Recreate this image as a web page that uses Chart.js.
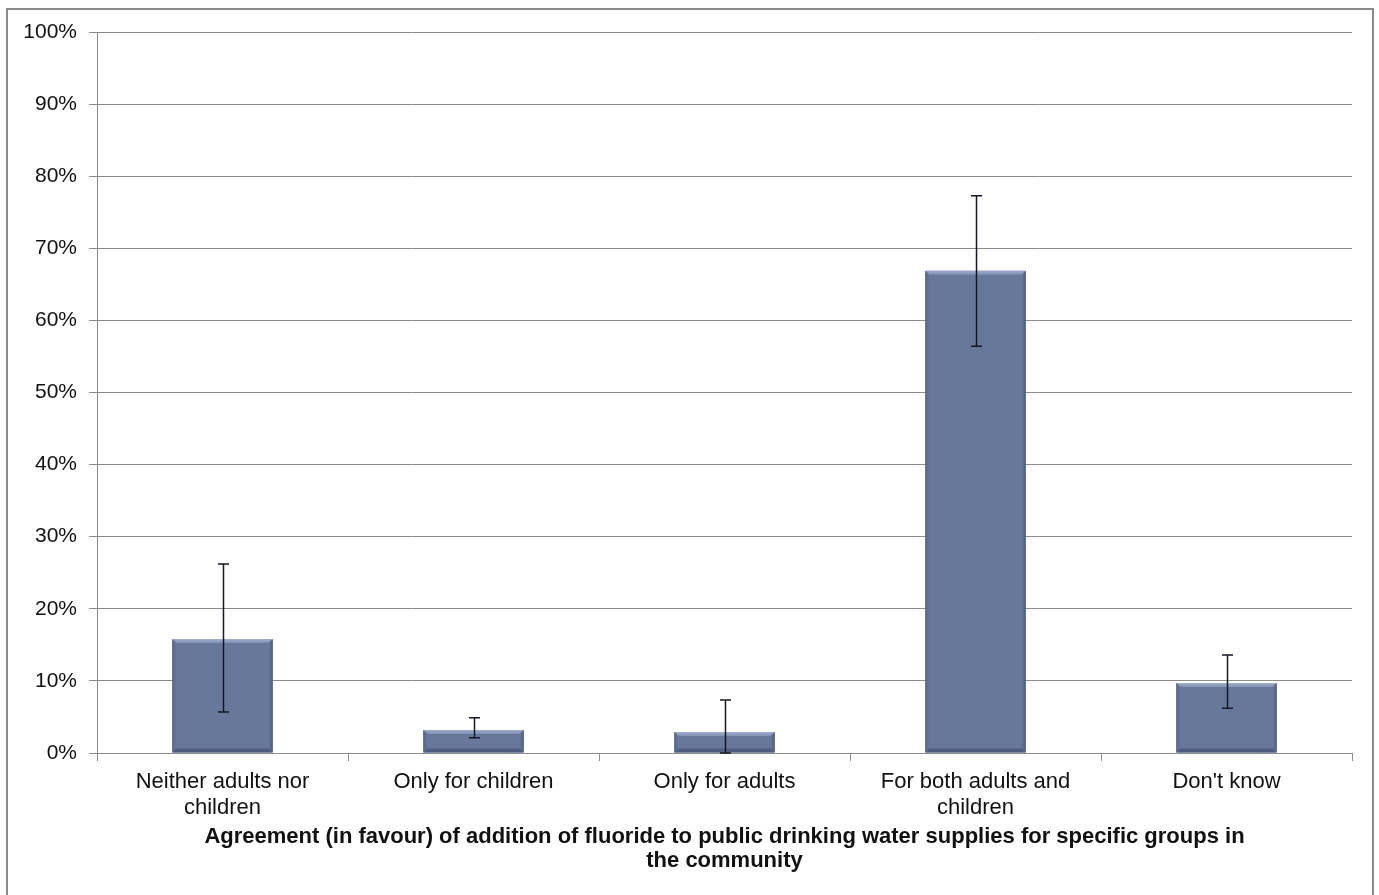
<!DOCTYPE html>
<html><head><meta charset="utf-8">
<script src="https://cdn.jsdelivr.net/npm/chart.js@4/dist/chart.umd.min.js"></script>
<style>
html,body{margin:0;padding:0;background:#fff;overflow:hidden;}
#wrap{position:absolute;left:0;top:0;width:1379px;height:895px;}
#frame{position:absolute;left:6px;top:8px;width:1368px;height:900px;border:2px solid #8a8a8a;box-sizing:border-box;pointer-events:none;}
</style></head>
<body>
<div id="wrap"><canvas id="c"></canvas></div>
<div id="frame"></div>
<script>
const categories = [["Neither adults nor","children"],"Only for children","Only for adults",["For both adults and","children"],"Don't know"];
const values = [15.8, 3.2, 2.9, 66.9, 9.7];
const errLow = [5.7, 2.1, 0.0, 56.4, 6.2];
const errHigh = [26.2, 4.9, 7.35, 77.3, 13.6];
const yTickLabels = ["0%","10%","20%","30%","40%","50%","60%","70%","80%","90%","100%"];
const axisTitle = ["Agreement (in favour) of addition of fluoride to public drinking water supplies for specific groups in","the community"];

const FONT = 'Liberation Sans, Arial, sans-serif';

const bevel = {
  id:'bevel',
  afterDatasetsDraw(chart){
    const ctx = chart.ctx;
    chart.getDatasetMeta(0).data.forEach(b=>{
      const l=b.x-b.width/2, r=b.x+b.width/2, t=b.y, bt=b.base, e=4;
      if (bt-t < 2) return;
      ctx.save();
      let g=ctx.createLinearGradient(0,t,0,t+e);
      g.addColorStop(0,'#a0aecb');g.addColorStop(1,'#8090b4');
      ctx.fillStyle=g;
      ctx.beginPath();ctx.moveTo(l,t);ctx.lineTo(r,t);ctx.lineTo(r-e,t+e);ctx.lineTo(l+e,t+e);ctx.closePath();ctx.fill();
      g=ctx.createLinearGradient(l,0,l+e,0);g.addColorStop(0,'#55648a');g.addColorStop(1,'#68789b');
      ctx.fillStyle=g;
      ctx.beginPath();ctx.moveTo(l,t);ctx.lineTo(l+e,t+e);ctx.lineTo(l+e,bt-e);ctx.lineTo(l,bt);ctx.closePath();ctx.fill();
      g=ctx.createLinearGradient(r,0,r-e,0);g.addColorStop(0,'#4d5b7f');g.addColorStop(1,'#68789b');
      ctx.fillStyle=g;
      ctx.beginPath();ctx.moveTo(r,t);ctx.lineTo(r-e,t+e);ctx.lineTo(r-e,bt-e);ctx.lineTo(r,bt);ctx.closePath();ctx.fill();
      ctx.fillStyle='#4f5d80';
      ctx.beginPath();ctx.moveTo(l,bt);ctx.lineTo(l+e,bt-e);ctx.lineTo(r-e,bt-e);ctx.lineTo(r,bt);ctx.closePath();ctx.fill();
      ctx.restore();
    });
  }
};
const errorBars = {
  id:'errorBars',
  afterDatasetsDraw(chart){
    const ctx=chart.ctx, ys=chart.scales.y;
    ctx.save();
    ctx.strokeStyle='#141824';ctx.lineWidth=1.5;
    chart.getDatasetMeta(0).data.forEach((b,i)=>{
      const x=Math.round(b.x)+0.5, yh=ys.getPixelForValue(errHigh[i]), yl=ys.getPixelForValue(errLow[i]);
      ctx.beginPath();
      ctx.moveTo(x,yh);ctx.lineTo(x,yl);
      ctx.moveTo(x-5.5,yh);ctx.lineTo(x+5.5,yh);
      ctx.moveTo(x-5.5,yl);ctx.lineTo(x+5.5,yl);
      ctx.stroke();
    });
    ctx.restore();
  }
};

new Chart(document.getElementById('c'),{
  type:'bar',
  data:{labels:categories,datasets:[{data:values,backgroundColor:'#68789b',borderWidth:0,barPercentage:0.8,categoryPercentage:0.5}]},
  options:{
    responsive:true,maintainAspectRatio:false,animation:false,
    layout:{padding:{left:0,right:27,top:32,bottom:0}},
    plugins:{legend:{display:false},tooltip:{enabled:false}},
    scales:{
      x:{
        afterFit(s){ s.height = 142; },
        grid:{display:true,drawOnChartArea:false,drawTicks:true,tickLength:8,offset:true,color:'#8c8c8c'},
        border:{color:'#8c8c8c',width:1},
        ticks:{color:'#111',font:{family:FONT,size:22,lineHeight:1.18},padding:8,maxRotation:0,autoSkip:false},
        title:{display:true,text:axisTitle,color:'#111',font:{family:FONT,size:22,weight:'bold',lineHeight:1.09},padding:{top:0,bottom:22}}
      },
      y:{
        min:0,max:100,
        afterFit(s){ s.width = 97; },
        ticks:{stepSize:10,callback:(v,i)=>yTickLabels[i],color:'#111',font:{family:FONT,size:21},padding:12},
        grid:{color:'#8c8c8c',tickLength:8,drawTicks:true},
        border:{color:'#8c8c8c',width:1}
      }
    }
  },
  plugins:[bevel,errorBars]
});
</script>
</body></html>
